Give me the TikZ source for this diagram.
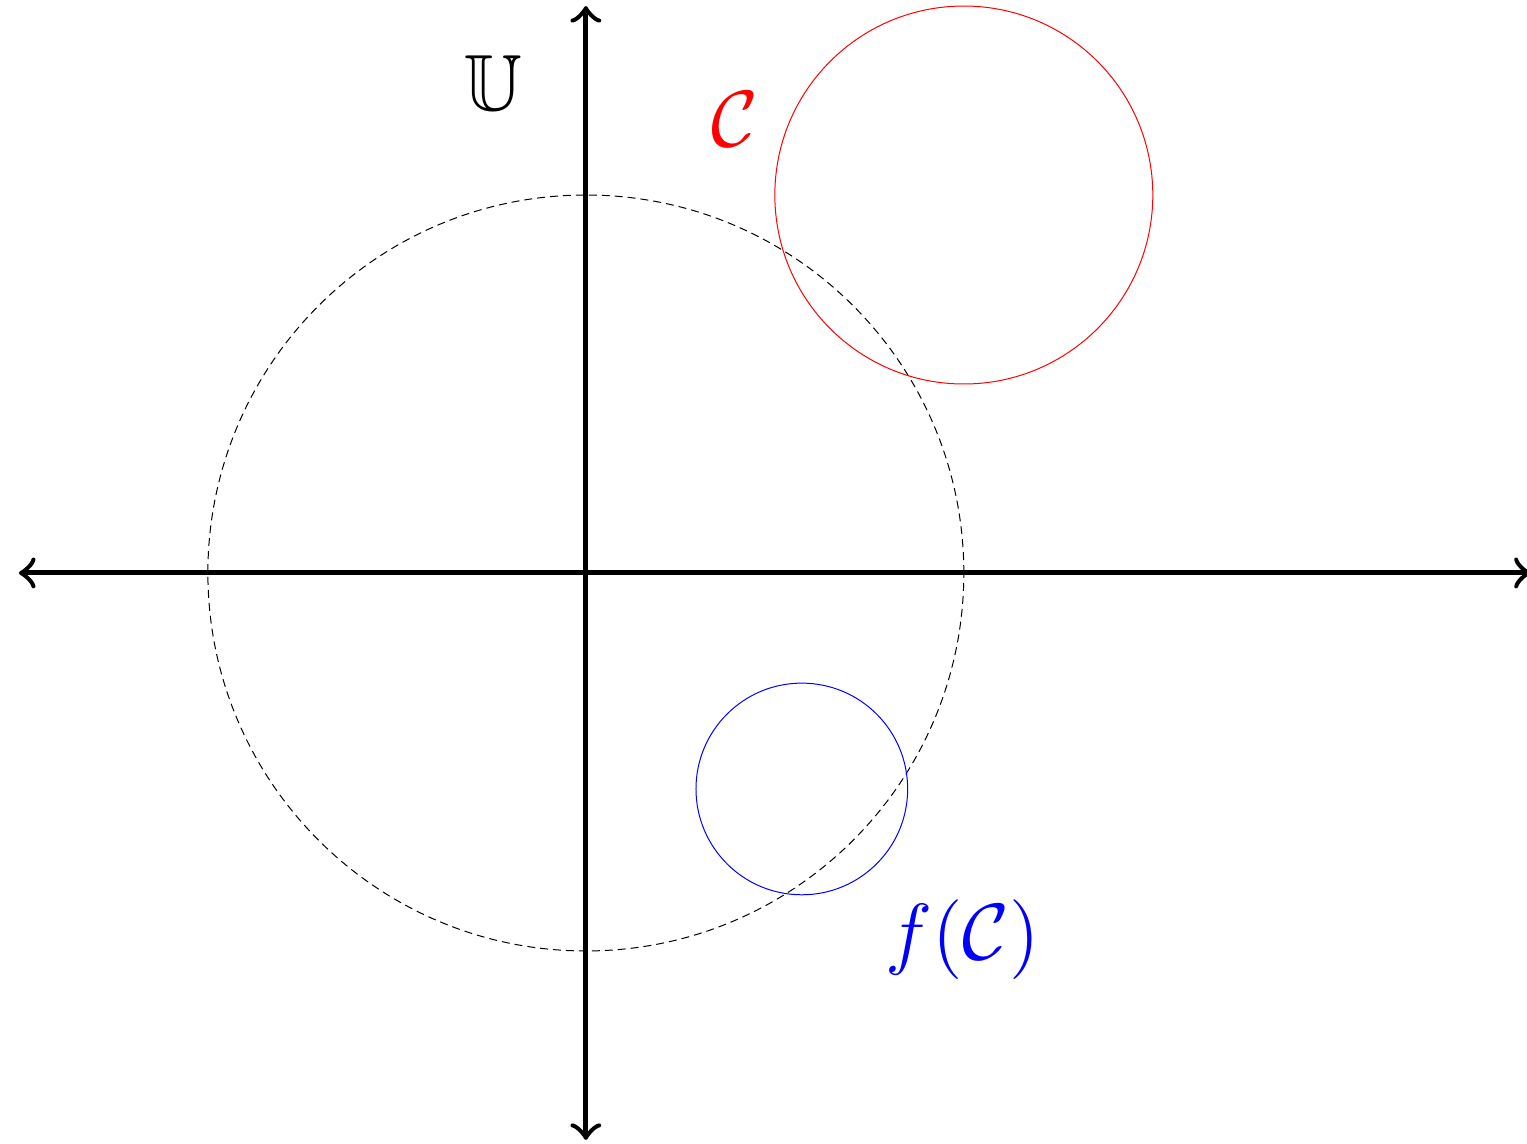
\documentclass[tikz,border=0pt]{standalone}
\usepackage{amsmath,amssymb}
\usetikzlibrary{arrows.meta}
\definecolor{curvered}{RGB}{255,0,0}
\definecolor{curveblue}{RGB}{0,0,255}
\tikzset{
  axis/.style={line width=0.75pt,<->,>=to},
  unitcirc/.style={line width=0.15pt,dash pattern=on 1.2pt off 0.75pt},
  curve/.style={draw=#1,line width=0.15pt},
  curve/.default=curvered,
  lbl/.style={font=\large,text=#1},
  lbl/.default=black,
}
\begin{document}
\begin{tikzpicture}[x=2cm,y=2cm]
  \useasboundingbox (-1.55,-1.51) rectangle (2.49,1.516);
  % unit circle and the two curves
  \draw[unitcirc] (0,0) circle (1);
  \draw[curve=curvered] (1,1) circle (0.5);
  \draw[curve=curveblue] (0.5714,-0.5714) circle (0.28);
  % axes
  \draw[axis] (-1.5,0) -- (2.5,0);
  \draw[axis] (0,-1.5) -- (0,1.5);
  % labels
  \node[lbl] (unitlabel) at (-0.246,1.295) {$\mathbb{U}$};
  \node[lbl=curvered] (clabel) at (0.394,1.2) {$\mathcal{C}$};
  \node[lbl=curveblue] (fclabel) at (0.997,-0.971) {$f(\mathcal{C})$};
\end{tikzpicture}
\end{document}
